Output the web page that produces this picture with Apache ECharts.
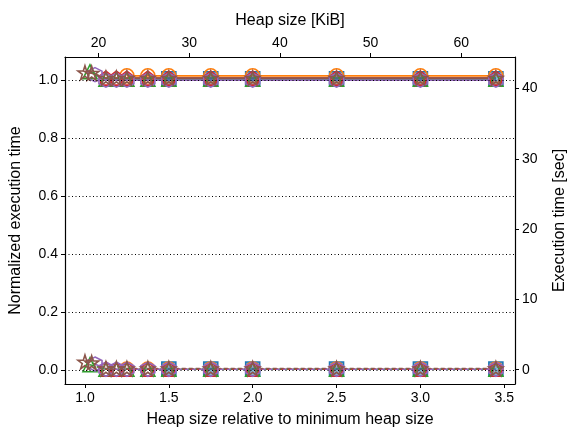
<!DOCTYPE html>
<html>
<head>
<meta charset="utf-8">
<script src="https://cdn.jsdelivr.net/npm/echarts@6/dist/echarts.min.js"></script>
<style>
  html, body { margin: 0; padding: 0; background: #fff; }
  #chart { width: 576px; height: 433px; }
</style>
</head>
<body>
<div id="chart"></div>
<script>
// Heap size relative to the minimum heap size, per configuration
const ratioBlue   = [1.5, 1.75, 2.0, 2.5, 3.0, 3.45];
const ratioOrange = [1.25, 1.375, 1.5, 1.75, 2.0, 2.5, 3.0, 3.45];
const ratioGreen  = [1.03, 1.125, 1.1875, 1.25, 1.375, 1.5, 1.75, 2.0, 2.5, 3.0, 3.45];
const ratioRed    = [1.125, 1.1875, 1.25, 1.375, 1.5, 1.75, 2.0, 2.5, 3.0, 3.45];
const ratioPurple = [1.06, 1.125, 1.1875, 1.25, 1.375, 1.5, 1.75, 2.0, 2.5, 3.0, 3.45];
const ratioBrown  = [1.0, 1.04, 1.125, 1.1875, 1.25, 1.375, 1.5, 1.75, 2.0, 2.5, 3.0, 3.45];

// Normalized execution time (left axis)
const normBlue   = [1.006, 1.006, 1.006, 1.006, 1.006, 1.006];
const normOrange = [1.016, 1.016, 1.016, 1.016, 1.016, 1.016, 1.016, 1.016];
const normGreen  = [1.03, 1.004, 1.004, 1.004, 1.004, 1.004, 1.004, 1.004, 1.004, 1.004, 1.004];
const normRed    = [1.008, 1.008, 1.008, 1.008, 1.008, 1.008, 1.008, 1.008, 1.008, 1.008];
const normPurple = [1.02, 1.001, 1.001, 1.001, 1.001, 1.001, 1.001, 1.001, 1.001, 1.001, 1.001];
const normBrown  = [1.027, 1.025, 1.008, 1.008, 1.008, 1.008, 1.008, 1.008, 1.008, 1.008, 1.008, 1.008];

// Execution time in seconds (right axis)
const secBlue   = [0.1, 0.1, 0.1, 0.1, 0.1, 0.1];
const secOrange = [0.1, 0.1, 0.1, 0.1, 0.1, 0.1, 0.1, 0.1];
const secGreen  = [0.7, 0.05, 0.05, 0.05, 0.05, 0.05, 0.05, 0.05, 0.05, 0.05, 0.05];
const secRed    = [0.1, 0.05, 0.05, 0.05, 0.05, 0.05, 0.05, 0.05, 0.05, 0.05];
const secPurple = [0.8, 0.05, 0.05, 0.05, 0.05, 0.05, 0.05, 0.05, 0.05, 0.05, 0.05];
const secBrown  = [1.1, 1.0, 0.15, 0.15, 0.15, 0.15, 0.15, 0.15, 0.15, 0.15, 0.15, 0.15];

// Tick labels
const ratioTicks = [1.0, 1.5, 2.0, 2.5, 3.0, 3.5];
const kibTicks = [20, 30, 40, 50, 60];
const normTicks = [0.0, 0.2, 0.4, 0.6, 0.8, 1.0];
const secTicks = [0, 10, 20, 30, 40];

// Minimum heap size in KiB, links the two x axes
const minHeapKiB = 18.5;
const ratioMin = 0.881, ratioMax = 3.564;

const STAR = 'path://M50 0 L61.2 34.5 L97.6 34.5 L68.2 55.9 L79.4 90.5 L50 69.1 L20.6 90.5 L31.8 55.9 L2.4 34.5 L38.8 34.5 Z';
const PENTAGON = 'path://M50 0 L97.6 34.5 L79.4 90.5 L20.6 90.5 L2.4 34.5 Z';
const HEXAGON = 'path://M50 0 L93.3 25 L93.3 75 L50 100 L6.7 75 L6.7 25 Z';

const configs = [
  { ratio: ratioBlue,   norm: normBlue,   sec: secBlue,   color: '#1f77b4', symbol: 'rect',     fill: 'rgba(31,119,180,0.55)' },
  { ratio: ratioOrange, norm: normOrange, sec: secOrange, color: '#ff7f0e', symbol: 'circle',   fill: 'rgba(255,255,255,0)' },
  { ratio: ratioGreen,  norm: normGreen,  sec: secGreen,  color: '#2ca02c', symbol: 'triangle', fill: 'rgba(255,255,255,0)' },
  { ratio: ratioRed,    norm: normRed,    sec: secRed,    color: '#d62728', symbol: PENTAGON,   fill: 'rgba(255,255,255,0)' },
  { ratio: ratioPurple, norm: normPurple, sec: secPurple, color: '#9467bd', symbol: HEXAGON,    fill: 'rgba(255,255,255,0)' },
  { ratio: ratioBrown,  norm: normBrown,  sec: secBrown,  color: '#8c564b', symbol: STAR,       fill: 'rgba(255,255,255,0)' }
];

const pair = (xs, ys) => xs.map((x, i) => [x, ys[i]]);

const series = [];
// dotted horizontal grid at the left-axis ticks
series.push({
  type: 'line', xAxisIndex: 0, yAxisIndex: 0, data: [], silent: true,
  markLine: {
    silent: true, symbol: ['none', 'none'], label: { show: false },
    lineStyle: { color: '#000', type: [1, 2.5], width: 1 },
    data: normTicks.map(v => ({ yAxis: v }))
  }
});
configs.forEach(c => {
  series.push({
    type: 'line', xAxisIndex: 0, yAxisIndex: 0,
    data: pair(c.ratio, c.norm),
    symbol: c.symbol, symbolSize: 14, showAllSymbol: true,
    lineStyle: { color: c.color, width: 1.8 },
    itemStyle: { color: c.fill, borderColor: c.color, borderWidth: 1.6 },
    z: 3
  });
});
configs.forEach(c => {
  series.push({
    type: 'line', xAxisIndex: 0, yAxisIndex: 1,
    data: pair(c.ratio, c.sec),
    symbol: c.symbol, symbolSize: 14, showAllSymbol: true,
    lineStyle: { color: c.color, width: 1.5, type: [4, 3] },
    itemStyle: { color: c.fill, borderColor: c.color, borderWidth: 1.6 },
    z: 3
  });
});

const FONT = 'Liberation Sans';
const axisLine = { show: true, onZero: false, lineStyle: { color: '#000', width: 1.2 } };
const axisTick = (vals) => ({ show: true, inside: false, length: 4, lineStyle: { color: '#000', width: 1 }, customValues: vals });
const nameStyle = { fontFamily: FONT, fontSize: 16, color: '#000' };
const labelStyle = { color: '#000', fontFamily: FONT, fontSize: 14, margin: 7 };

const option = {
  animation: false,
  backgroundColor: '#fff',
  textStyle: { fontFamily: FONT },
  grid: { left: 62, right: 49, top: 57, bottom: 46, containLabel: false },
  xAxis: [
    {
      type: 'value', position: 'bottom', min: ratioMin, max: ratioMax,
      name: 'Heap size relative to minimum heap size', nameLocation: 'middle', nameGap: 28,
      nameTextStyle: nameStyle,
      axisLine, axisTick: axisTick(ratioTicks),
      axisLabel: Object.assign({ customValues: ratioTicks, formatter: v => v.toFixed(1) }, labelStyle),
      splitLine: { show: false }
    },
    {
      type: 'value', position: 'top', min: ratioMin * minHeapKiB, max: ratioMax * minHeapKiB,
      name: 'Heap size [KiB]', nameLocation: 'middle', nameGap: 28,
      nameTextStyle: nameStyle,
      axisLine, axisTick: axisTick(kibTicks),
      axisLabel: Object.assign({ customValues: kibTicks, formatter: v => String(v) }, labelStyle),
      splitLine: { show: false }
    }
  ],
  yAxis: [
    {
      type: 'value', position: 'left', min: -0.049, max: 1.081,
      name: 'Normalized execution time', nameLocation: 'middle', nameGap: 41, nameRotate: 90,
      nameTextStyle: nameStyle,
      axisLine, axisTick: axisTick(normTicks),
      axisLabel: Object.assign({ customValues: normTicks, formatter: v => v.toFixed(1) }, labelStyle),
      splitLine: { show: false }
    },
    {
      type: 'value', position: 'right', min: -2.04, max: 44.5,
      name: 'Execution time [sec]', nameLocation: 'middle', nameGap: 37, nameRotate: 90,
      nameTextStyle: nameStyle,
      axisLine, axisTick: axisTick(secTicks),
      axisLabel: Object.assign({ customValues: secTicks, formatter: v => String(v) }, labelStyle),
      splitLine: { show: false }
    }
  ],
  series
};

const chart = echarts.init(document.getElementById('chart'), null, { renderer: 'canvas' });
chart.setOption(option);
</script>
</body>
</html>
